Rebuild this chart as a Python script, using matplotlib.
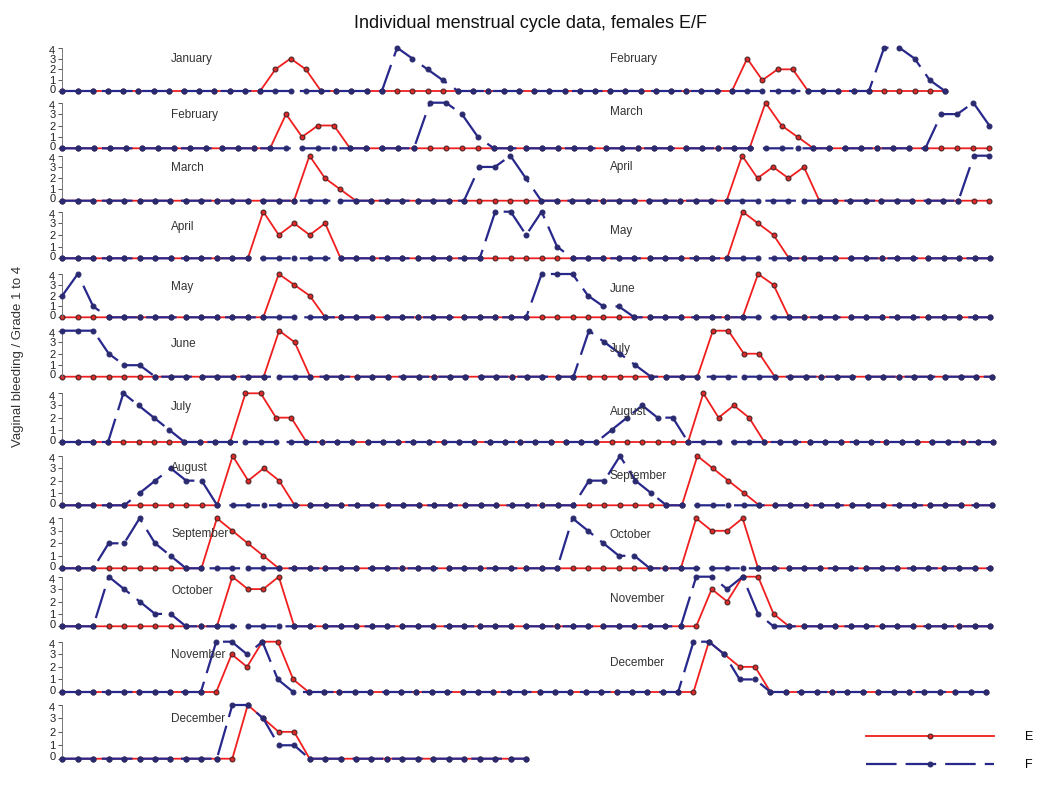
import matplotlib.pyplot as plt
import matplotlib.transforms as mtransforms

plt.rcParams['font.family'] = ['Liberation Sans', 'DejaVu Sans']

month_names = ['January', 'February', 'March', 'April', 'May', 'June',
               'July', 'August', 'September', 'October', 'November', 'December']

# daily bleeding grade, female E
E_jan = [0, 0, 0, 0, 0, 0, 0, 0, 0, 0, 0, 0, 0, 0, 2, 3, 2, 0, 0, 0, 0, 0, 0, 0, 0, 0, 0, 0, 0, 0, 0]
E_feb = [0, 0, 0, 0, 0, 0, 0, 0, 0, 0, 0, 0, 0, 0, 3, 1, 2, 2, 0, 0, 0, 0, 0, 0, 0, 0, 0, 0]
E_mar = [0, 0, 0, 0, 0, 0, 0, 0, 0, 0, 0, 0, 0, 0, 0, 0, 4, 2, 1, 0, 0, 0, 0, 0, 0, 0, 0, 0, 0, 0, 0]
E_apr = [0, 0, 0, 0, 0, 0, 0, 0, 0, 0, 0, 0, 0, 4, 2, 3, 2, 3, 0, 0, 0, 0, 0, 0, 0, 0, 0, 0, 0, 0]
E_may = [0, 0, 0, 0, 0, 0, 0, 0, 0, 0, 0, 0, 0, 0, 4, 3, 2, 0, 0, 0, 0, 0, 0, 0, 0, 0, 0, 0, 0, 0, 0]
E_jun = [0, 0, 0, 0, 0, 0, 0, 0, 0, 0, 0, 0, 0, 0, 4, 3, 0, 0, 0, 0, 0, 0, 0, 0, 0, 0, 0, 0, 0, 0]
E_jul = [0, 0, 0, 0, 0, 0, 0, 0, 0, 0, 0, 0, 4, 4, 2, 2, 0, 0, 0, 0, 0, 0, 0, 0, 0, 0, 0, 0, 0, 0, 0]
E_aug = [0, 0, 0, 0, 0, 0, 0, 0, 0, 0, 0, 4, 2, 3, 2, 0, 0, 0, 0, 0, 0, 0, 0, 0, 0, 0, 0, 0, 0, 0, 0]
E_sep = [0, 0, 0, 0, 0, 0, 0, 0, 0, 0, 4, 3, 2, 1, 0, 0, 0, 0, 0, 0, 0, 0, 0, 0, 0, 0, 0, 0, 0, 0]
E_oct = [0, 0, 0, 0, 0, 0, 0, 0, 0, 0, 0, 4, 3, 3, 4, 0, 0, 0, 0, 0, 0, 0, 0, 0, 0, 0, 0, 0, 0, 0, 0]
E_nov = [0, 0, 0, 0, 0, 0, 0, 0, 0, 0, 0, 3, 2, 4, 4, 1, 0, 0, 0, 0, 0, 0, 0, 0, 0, 0, 0, 0, 0, 0]
E_dec = [0, 0, 0, 0, 0, 0, 0, 0, 0, 0, 0, 0, 4, 3, 2, 2, 0, 0, 0, 0, 0, 0, 0, 0, 0, 0, 0, 0, 0, 0, 0]

# daily bleeding grade, female F
F_jan = [0, 0, 0, 0, 0, 0, 0, 0, 0, 0, 0, 0, 0, 0, 0, 0, 0, 0, 0, 0, 0, 0, 4, 3, 2, 1, 0, 0, 0, 0, 0]
F_feb = [0, 0, 0, 0, 0, 0, 0, 0, 0, 0, 0, 0, 0, 0, 0, 0, 0, 0, 0, 0, 0, 0, 0, 4, 4, 3, 1, 0]
F_mar = [0, 0, 0, 0, 0, 0, 0, 0, 0, 0, 0, 0, 0, 0, 0, 0, 0, 0, 0, 0, 0, 0, 0, 0, 0, 0, 0, 3, 3, 4, 2]
F_apr = [0, 0, 0, 0, 0, 0, 0, 0, 0, 0, 0, 0, 0, 0, 0, 0, 0, 0, 0, 0, 0, 0, 0, 0, 0, 0, 0, 0, 4, 4]
F_may = [2, 4, 1, 0, 0, 0, 0, 0, 0, 0, 0, 0, 0, 0, 0, 0, 0, 0, 0, 0, 0, 0, 0, 0, 0, 0, 0, 0, 0, 0, 0]
F_jun = [4, 4, 4, 2, 1, 1, 0, 0, 0, 0, 0, 0, 0, 0, 0, 0, 0, 0, 0, 0, 0, 0, 0, 0, 0, 0, 0, 0, 0, 0]
F_jul = [0, 0, 0, 0, 4, 3, 2, 1, 0, 0, 0, 0, 0, 0, 0, 0, 0, 0, 0, 0, 0, 0, 0, 0, 0, 0, 0, 0, 0, 0, 0]
F_aug = [0, 0, 0, 0, 0, 1, 2, 3, 2, 2, 0, 0, 0, 0, 0, 0, 0, 0, 0, 0, 0, 0, 0, 0, 0, 0, 0, 0, 0, 0, 0]
F_sep = [0, 0, 0, 2, 2, 4, 2, 1, 0, 0, 0, 0, 0, 0, 0, 0, 0, 0, 0, 0, 0, 0, 0, 0, 0, 0, 0, 0, 0, 0]
F_oct = [0, 0, 0, 4, 3, 2, 1, 1, 0, 0, 0, 0, 0, 0, 0, 0, 0, 0, 0, 0, 0, 0, 0, 0, 0, 0, 0, 0, 0, 0, 0]
F_nov = [0, 0, 0, 0, 0, 0, 0, 0, 0, 0, 4, 4, 3, 4, 1, 0, 0, 0, 0, 0, 0, 0, 0, 0, 0, 0, 0, 0, 0, 0]
F_dec = [0, 0, 0, 0, 0, 0, 0, 0, 0, 0, 0, 4, 4, 3, 1, 1, 0, 0, 0, 0, 0, 0, 0, 0, 0, 0, 0, 0, 0, 0, 0]

E = [E_jan, E_feb, E_mar, E_apr, E_may, E_jun, E_jul, E_aug, E_sep, E_oct, E_nov, E_dec]
F = [F_jan, F_feb, F_mar, F_apr, F_may, F_jun, F_jul, F_aug, F_sep, F_oct, F_nov, F_dec]

W, H = 1050, 785
fig = plt.figure(figsize=(W / 100, H / 100), dpi=100)

# row layout in pixels: zero line, grade-4 line, x of last day
zero_px = [91, 148.3, 200.7, 258.3, 317.3, 376.7, 442, 505.3, 568.3, 626.3, 692, 758.7]
top_px = [47.7, 102.7, 155.7, 211.7, 274, 330.7, 393.3, 456, 518.3, 576.7, 641.7, 705]
end_px = [945, 989.3, 989.3, 990, 990, 991.7, 993.3, 991.7, 990, 990, 986, 526]
x0_px = 62.3
lab_l_y = [59, 115, 168, 227, 287, 344, 407, 468, 534, 591, 655, 719]
lab_r_y = [59, 112, 167, 231, 289, 349, 412, 476, 535, 599, 663]

red = '#f01e1e'
navy = '#28288c'
lw_f = 1.6

# nudge the 0 / 4 labels a little apart where rows sit close together
up = mtransforms.ScaledTranslation(0, 1.6 / 72, fig.dpi_scale_trans)
down = mtransforms.ScaledTranslation(0, -1.6 / 72, fig.dpi_scale_trans)

for r in range(12):
    if r < 11:
        e = E[r] + E[r + 1]
        f = F[r] + F[r + 1]
    else:
        e = E[r]
        f = F[r]
    n = len(e)
    ax = fig.add_axes([x0_px / W, 1 - zero_px[r] / H,
                       (end_px[r] - x0_px) / W, (zero_px[r] - top_px[r]) / H])
    ax.patch.set_visible(False)
    x = list(range(n))
    l_e, = ax.plot(x, e, color=red, lw=1.3, marker='o', ms=3.5, mfc='#e02828',
                   mec='#4a2525', mew=0.8, clip_on=False, zorder=2)
    l_f, = ax.plot(x, f, color=navy, lw=lw_f, dashes=(22 / lw_f, 6.5 / lw_f),
                   marker='o', ms=3.5, mfc='#2a2a70', mec='#2a2a70', mew=0.8,
                   clip_on=False, zorder=3)
    ax.set_xlim(0, n - 1)
    ax.set_ylim(0, 4)
    ax.set_xticks([])
    ax.set_yticks([0, 1, 2, 3, 4])
    ax.tick_params(axis='y', length=3, width=0.7, pad=2, labelsize=8,
                   color='#555555', labelcolor='#222222')
    for s in ['top', 'right', 'bottom']:
        ax.spines[s].set_visible(False)
    ax.spines['left'].set_color('#777777')
    ax.spines['left'].set_linewidth(0.7)
    labs = ax.get_yticklabels()
    labs[0].set_transform(labs[0].get_transform() + up)
    labs[-1].set_transform(labs[-1].get_transform() + down)

    fig.text(171 / W, 1 - lab_l_y[r] / H, month_names[r], fontsize=8.5,
             color='#333333', ha='left', va='center')
    if r < 11:
        fig.text(610 / W, 1 - lab_r_y[r] / H, month_names[r + 1], fontsize=8.5,
                 color='#333333', ha='left', va='center')

fig.text(530 / W, 1 - 24 / H, 'Individual menstrual cycle data, females E/F',
         fontsize=13, ha='center', va='center', color='#111111')
fig.text(18 / W, 1 - 356 / H, 'Vaginal bleeding / Grade 1 to 4', rotation=90,
         fontsize=9.5, ha='center', va='center', color='#333333')

fig.legend(handles=[l_e, l_f], labels=['E', 'F'], loc='center left',
           bbox_to_anchor=(866 / W, 1 - 751 / H), frameon=False, fontsize=9,
           handlelength=10.2, handletextpad=2.5, labelspacing=1.3,
           borderpad=0, borderaxespad=0, numpoints=1)

fig.savefig('out.png', dpi=100)
